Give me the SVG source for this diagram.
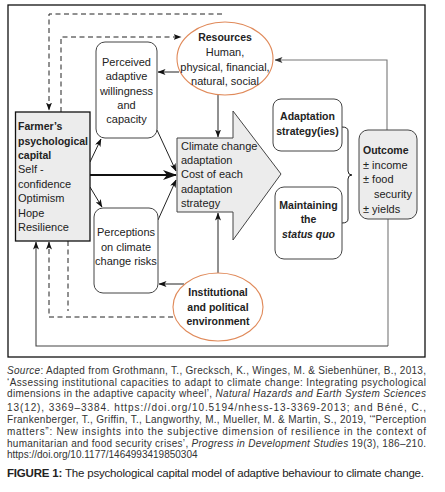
<svg xmlns="http://www.w3.org/2000/svg" width="445" height="492" viewBox="0 0 445 492">
<style>
text{font-family:"Liberation Sans",Arial,sans-serif;fill:#222}
.t{font-size:11px}
.b{font-size:10.5px;font-weight:bold}
.c{text-anchor:middle}
.cap{font-size:10px;fill:#333}
.ln{fill:none;stroke:#222;stroke-width:1}
.gl{fill:none;stroke:#777;stroke-width:1.1}
.ds{fill:none;stroke:#222;stroke-width:1;stroke-dasharray:5 3.5}
.box{fill:#fff;stroke:#444;stroke-width:1}
.gbox{fill:#ececec;stroke:#444;stroke-width:1}
.ell{fill:#fff;stroke:#e08a5a;stroke-width:1.1}
</style>
<defs>
<marker id="ah" markerWidth="8" markerHeight="6" refX="7.5" refY="3" orient="auto" markerUnits="userSpaceOnUse"><path d="M0,0 L8,3 L0,6 L2,3z" fill="#111"/></marker>
<marker id="ahg" markerWidth="8" markerHeight="6" refX="7.5" refY="3" orient="auto" markerUnits="userSpaceOnUse"><path d="M0,0 L8,3 L0,6 L2,3z" fill="#333"/></marker>
<marker id="ahb" markerWidth="14" markerHeight="10" refX="13" refY="5" orient="auto" markerUnits="userSpaceOnUse"><path d="M0,0 L14,5 L0,10 L4,5z" fill="#111"/></marker>
</defs>
<rect x="8" y="5" width="417" height="352" fill="#fff" stroke="#111" stroke-width="1.3"/>

<g id="connectors">
<path class="ds" d="M222,14 H49 V110" marker-end="url(#ah)"/>
<path class="ds" d="M61,112 V37 H181" marker-end="url(#ah)"/>
<path class="ln" d="M179,72 H158" marker-end="url(#ah)"/>
<path class="ln" d="M218,95 V137" marker-end="url(#ah)"/>
<path class="gl" d="M387,130 V60 H275" marker-end="url(#ahg)"/>
<path class="ln" d="M90,162 L101,139" marker-end="url(#ah)"/>
<path class="ln" d="M90,187 L102,207" marker-end="url(#ah)"/>
<path fill="none" stroke="#111" stroke-width="2.2" d="M90,175 H176" marker-end="url(#ahb)"/>
<path class="ln" d="M157,130 L176,171" marker-end="url(#ah)"/>
<path class="ln" d="M158,220 L176,180" marker-end="url(#ah)"/>
<path class="ln" d="M184,284 H159" marker-end="url(#ah)"/>
<path class="ln" d="M218,273 V213" marker-end="url(#ah)"/>
<path class="gl" d="M388,219 V346"/>
<path fill="none" stroke="#444" stroke-width="1.1" d="M388,346 H36 V242" marker-end="url(#ah)"/>
<path class="ds" d="M173,317 H49 V242" marker-end="url(#ah)"/>
<path class="ds" d="M68,241 V311"/>
<path class="ln" d="M342,127 Q348,127 348,131 V171 Q348,175 352,175 Q348,175 348,179 V219 Q348,223 342,223"/>
</g>

<g id="farmer">
<rect x="15.5" y="112" width="74.5" height="129" fill="#ececec" stroke="#111" stroke-width="1.3"/>
<text class="b" x="18" y="130">Farmer’s</text>
<text class="b" x="18" y="144.5">psychological</text>
<text class="b" x="18" y="159">capital</text>
<text class="t" x="18" y="173">Self -</text>
<text class="t" x="18" y="187.5">confidence</text>
<text class="t" x="18" y="202">Optimism</text>
<text class="t" x="18" y="216.5">Hope</text>
<text class="t" x="18" y="231">Resilience</text>
</g>

<g id="resources">
<ellipse class="ell" cx="225" cy="58.5" rx="48" ry="36.5"/>
<text class="b c" x="225" y="41">Resources</text>
<text class="t c" x="225" y="56">Human,</text>
<text class="t c" x="225" y="70.5">physical, financial,</text>
<text class="t c" x="225" y="85">natural, social</text>
</g>

<g id="perceived">
<rect class="box" x="96" y="42" width="61" height="96" rx="9"/>
<text class="t c" x="126.5" y="66">Perceived</text>
<text class="t c" x="126.5" y="80">adaptive</text>
<text class="t c" x="126.5" y="94.5">willingness</text>
<text class="t c" x="126.5" y="109">and</text>
<text class="t c" x="126.5" y="123">capacity</text>
</g>

<g id="perceptions">
<rect class="box" x="94" y="208" width="64" height="85" rx="9"/>
<text class="t c" x="126" y="236">Perceptions</text>
<text class="t c" x="126" y="250.5">on climate</text>
<text class="t c" x="126" y="265">change risks</text>
</g>

<g id="climate">
<path class="gbox" d="M177,138 H233 V111 L281,174 L233,240 V212 H177 Z"/>
<text class="t" x="181" y="149.5">Climate change</text>
<text class="t" x="181" y="164">adaptation</text>
<text class="t" x="181" y="178">Cost of each</text>
<text class="t" x="181" y="193">adaptation</text>
<text class="t" x="181" y="207">strategy</text>
</g>

<g id="adaptation">
<rect class="box" x="273" y="99" width="69" height="52" rx="8"/>
<text class="b c" x="307.5" y="120">Adaptation</text>
<text class="b c" x="307.5" y="135">strategy(ies)</text>
</g>

<g id="maintaining">
<rect class="box" x="275" y="187" width="67" height="72" rx="9"/>
<text class="b c" x="308.5" y="209">Maintaining</text>
<text class="b c" x="308.5" y="223">the</text>
<text class="b c" x="308.5" y="238" font-style="italic">status quo</text>
</g>

<g id="outcome">
<rect class="gbox" x="359" y="130" width="58" height="89" rx="9"/>
<text class="b" x="363" y="154">Outcome</text>
<text class="t" x="363" y="169">± income</text>
<text class="t" x="363" y="183">± food</text>
<text class="t" x="374" y="198">security</text>
<text class="t" x="363" y="213">± yields</text>
</g>

<g id="institutional">
<ellipse class="ell" cx="218" cy="307" rx="45" ry="34"/>
<text class="b c" x="218" y="296">Institutional</text>
<text class="b c" x="218" y="310.5">and political</text>
<text class="b c" x="218" y="325">environment</text>
</g>

<g id="caption">
<text class="cap" x="7" y="373.5" textLength="419" lengthAdjust="spacing"><tspan font-style="italic">Source</tspan>: Adapted from Grothmann, T., Grecksch, K., Winges, M. &amp; Siebenhüner, B., 2013,</text>
<text class="cap" x="7" y="385.5" textLength="419" lengthAdjust="spacing">‘Assessing institutional capacities to adapt to climate change: Integrating psychological</text>
<text class="cap" x="7" y="397" textLength="419" lengthAdjust="spacing">dimensions in the adaptive capacity wheel’, <tspan font-style="italic">Natural Hazards and Earth System Sciences</tspan></text>
<text class="cap" x="7" y="410.5" textLength="419" lengthAdjust="spacing">13(12), 3369–3384. https://doi.org/10.5194/nhess-13-3369-2013; and Béné, C.,</text>
<text class="cap" x="7" y="422.5" textLength="419" lengthAdjust="spacing">Frankenberger, T., Griffin, T., Langworthy, M., Mueller, M. &amp; Martin, S., 2019, ‘“Perception</text>
<text class="cap" x="7" y="434.5" textLength="419" lengthAdjust="spacing">matters”: New insights into the subjective dimension of resilience in the context of</text>
<text class="cap" x="7" y="446.5" textLength="419" lengthAdjust="spacing">humanitarian and food security crises’, <tspan font-style="italic">Progress in Development Studies</tspan> 19(3), 186–210.</text>
<text class="cap" x="7" y="458">https://doi.org/10.1177/1464993419850304</text>
<text x="7" y="477" font-size="11.5" fill="#333" textLength="417" lengthAdjust="spacing"><tspan font-weight="bold">FIGURE 1:</tspan> The psychological capital model of adaptive behaviour to climate change.</text>
</g>
</svg>
